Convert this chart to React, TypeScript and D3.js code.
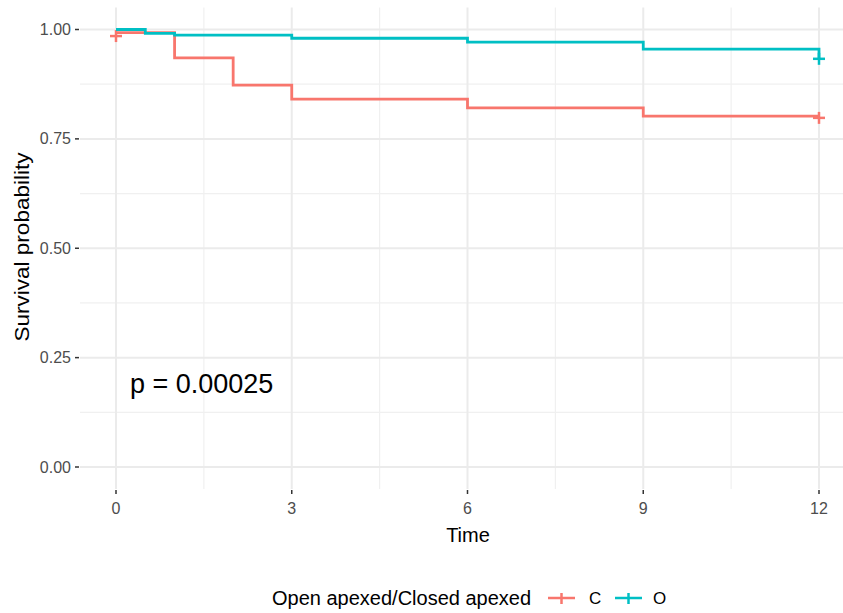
import React from "react";
import * as d3 from "d3";

const timesC = [0, 1, 2, 3, 6, 9, 12];
const survC = [0.993, 0.935, 0.873, 0.841, 0.821, 0.802, 0.802];
const timesO = [0, 0.5, 1, 3, 6, 9, 12];
const survO = [1.0, 0.991, 0.987, 0.98, 0.971, 0.955, 0.935];
const censorC = [[0, 0.985], [12, 0.798]];
const censorO = [[12, 0.933]];
const xTicks = [0, 3, 6, 9, 12];
const xMinor = [1.5, 4.5, 7.5, 10.5];
const yTicks = [0, 0.25, 0.5, 0.75, 1.0];
const yMinor = [0.125, 0.375, 0.625, 0.875];
const groups = ["C", "O"];
const colors = ["#F8766D", "#00BFC4"];

const W = 843, H = 613;
const panel = { left: 80, right: 843, top: 7.6, bottom: 489 };

export default function App() {
  const x = d3.scaleLinear().domain([0, 12]).range([116, 819]);
  const y = d3.scaleLinear().domain([0, 1]).range([467, 29.5]);
  const line = d3
    .line<[number, number]>()
    .x((d) => x(d[0]))
    .y((d) => y(d[1]))
    .curve(d3.curveStepAfter);
  const series = [
    { t: timesC, s: survC, c: censorC },
    { t: timesO, s: survO, c: censorO },
  ];
  const font = "'Liberation Sans', Arial, sans-serif";
  const cross = (cx: number, cy: number, col: string, k: string) => (
    <g key={k} stroke={col} strokeWidth={2.5}>
      <line x1={cx - 6} x2={cx + 6} y1={cy} y2={cy} />
      <line x1={cx} x2={cx} y1={cy - 6} y2={cy + 6} />
    </g>
  );
  return (
    <svg
      width={W}
      height={H}
      style={{ position: "absolute", left: 0, top: 0, background: "#fff" }}
      fontFamily={font}
    >
      <rect x={0} y={0} width={W} height={H} fill="#fff" />
      {/* grid */}
      <g stroke="#f0f0f0" strokeWidth={1.2}>
        {yMinor.map((v) => (
          <line key={"ym" + v} x1={panel.left} x2={panel.right} y1={y(v)} y2={y(v)} />
        ))}
        {xMinor.map((v) => (
          <line key={"xm" + v} y1={panel.top} y2={panel.bottom} x1={x(v)} x2={x(v)} />
        ))}
      </g>
      <g stroke="#ebebeb" strokeWidth={2}>
        {yTicks.map((v) => (
          <line key={"y" + v} x1={panel.left} x2={panel.right} y1={y(v)} y2={y(v)} />
        ))}
        {xTicks.map((v) => (
          <line key={"x" + v} y1={panel.top} y2={panel.bottom} x1={x(v)} x2={x(v)} />
        ))}
      </g>
      {/* curves */}
      {series.map((sr, i) => (
        <g key={groups[i]}>
          <path
            d={line(sr.t.map((t, j) => [t, sr.s[j]] as [number, number])) || ""}
            fill="none"
            stroke={colors[i]}
            strokeWidth={2.8}
          />
          {sr.c.map((p, j) => cross(x(p[0]), y(p[1]), colors[i], groups[i] + j))}
        </g>
      ))}
      {/* y axis */}
      <g>
        {yTicks.map((v) => (
          <g key={"yt" + v}>
            <line x1={75} x2={79} y1={y(v)} y2={y(v)} stroke="#333" strokeWidth={1.5} />
            <text
              x={71}
              y={y(v)}
              dy="0.35em"
              textAnchor="end"
              fontSize={16}
              fill="#4d4d4d"
            >
              {v.toFixed(2)}
            </text>
          </g>
        ))}
      </g>
      {/* x axis */}
      <g>
        {xTicks.map((v) => (
          <g key={"xt" + v}>
            <line x1={x(v)} x2={x(v)} y1={490} y2={494} stroke="#333" strokeWidth={1.5} />
            <text x={x(v)} y={514} textAnchor="middle" fontSize={16} fill="#4d4d4d">
              {v}
            </text>
          </g>
        ))}
      </g>
      <text x={468} y={542} textAnchor="middle" fontSize={20} fill="#000">
        Time
      </text>
      <text
        transform={`translate(29,247) rotate(-90)`}
        textAnchor="middle"
        fontSize={20}
        fill="#000"
        textLength={189}
        lengthAdjust="spacingAndGlyphs"
      >
        Survival probability
      </text>
      <text x={130} y={393} fontSize={27} fill="#000">
        p = 0.00025
      </text>
      {/* legend */}
      <text x={272} y={605} fontSize={20} fill="#000">
        Open apexed/Closed apexed
      </text>
      {groups.map((g, i) => {
        const kx = [548, 615][i];
        const ky = 598;
        return (
          <g key={"lg" + g}>
            <g stroke={colors[i]} strokeWidth={2.5}>
              <line x1={kx} x2={kx + 27} y1={ky} y2={ky} />
              <line x1={kx + 13.5} x2={kx + 13.5} y1={ky - 5} y2={ky + 6} />
            </g>
            <text x={[589, 653][i]} y={604} fontSize={17} fill="#000">
              {g}
            </text>
          </g>
        );
      })}
    </svg>
  );
}
